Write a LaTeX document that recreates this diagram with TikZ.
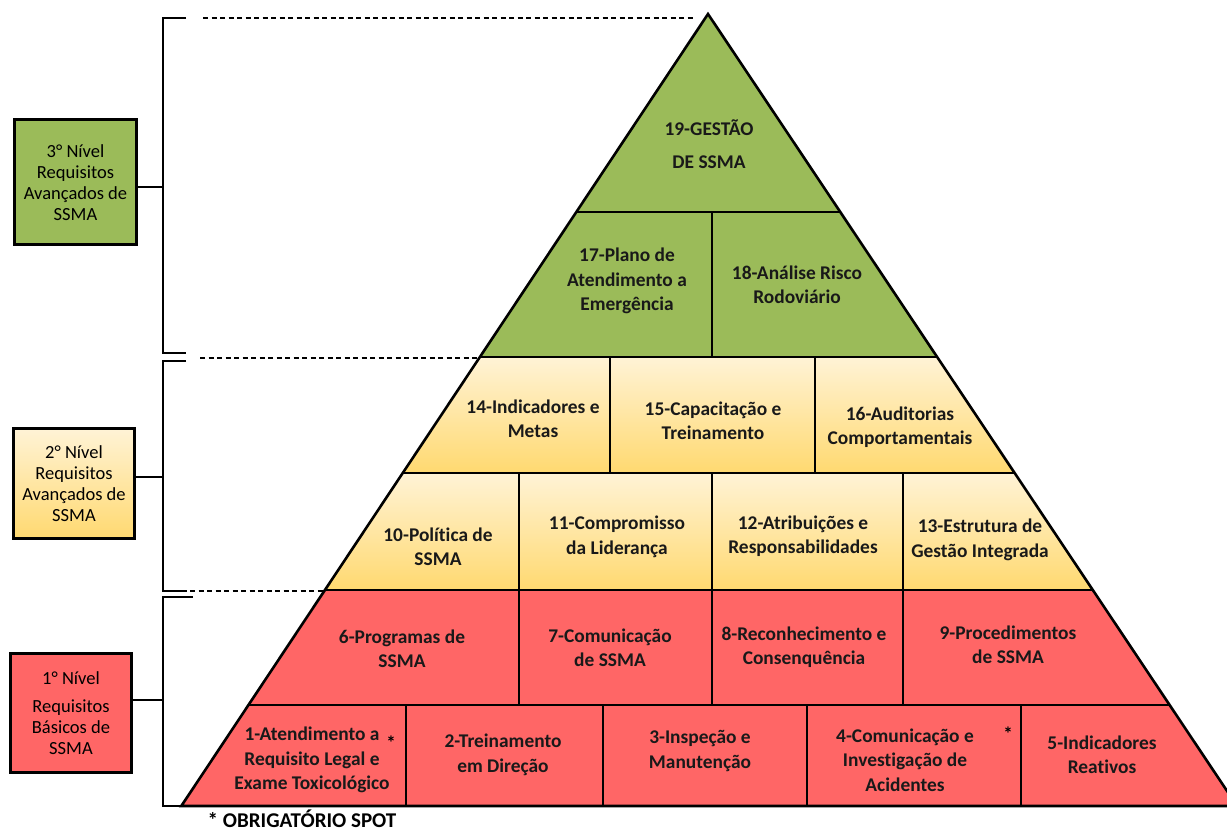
\documentclass[tikz,border=0pt]{standalone}
\usepackage{fontspec}
\setmainfont{Carlito}[Ligatures=NoCommon]
\definecolor{grn}{HTML}{9BBB59}
\definecolor{rd}{HTML}{FF6666}
\definecolor{ylt}{HTML}{FFF3D6}
\definecolor{ylb}{HTML}{FFD970}
\begin{document}
\begin{tikzpicture}[x=1pt,y=-1pt,
  pl/.style={line width=2.6pt,line join=miter},
  brk/.style={line width=2.8pt},
  dsh/.style={line width=1.1pt,dash pattern=on 5pt off 3.5pt},
  cell/.style={font=\fontsize{19.4}{24.5}\selectfont\bfseries,align=center,inner sep=0pt,text=black!90},
  star/.style={font=\fontsize{19}{22}\selectfont\bfseries,inner sep=0pt},
  lvl/.style={draw,line width=3pt,align=center,inner sep=0pt,font=\fontsize{18.5}{21}\selectfont}]
\useasboundingbox (0,0) rectangle (1227,834);
\begin{scope}
\clip (0,0) rectangle (1227,834);
% fills
\fill[grn] (708,14) -- (479.9,357) -- (937.1,357) -- cycle;
\shade[top color=ylt,bottom color=ylb] (479.9,357) -- (937.1,357) -- (1014.6,473) -- (402.8,473) -- cycle;
\shade[top color=ylt,bottom color=ylb] (402.8,473) -- (1014.6,473) -- (1092.8,590) -- (325,590) -- cycle;
\fill[rd] (325,590) -- (1092.8,590) -- (1237.1,806) -- (181.3,806) -- cycle;
% outline and rows
\draw[pl] (708,14) -- (181.3,806) -- (1237.1,806) -- cycle;
\draw[pl] (576.3,212) -- (840.3,212);
\draw[pl] (479.9,357) -- (937.1,357);
\draw[pl] (402.8,473) -- (1014.6,473);
\draw[pl] (325,590) -- (1092.8,590);
\draw[pl] (248.5,705) -- (1169.6,705);
% dividers
\draw[pl] (712,212) -- (712,357);
\draw[pl] (610,357) -- (610,473);
\draw[pl] (815,357) -- (815,473);
\draw[pl] (519,473) -- (519,590);
\draw[pl] (712,473) -- (712,590);
\draw[pl] (903,473) -- (903,590);
\draw[pl] (519,590) -- (519,705);
\draw[pl] (712,590) -- (712,705);
\draw[pl] (903,590) -- (903,705);
\draw[pl] (406,705) -- (406,806);
\draw[pl] (603,705) -- (603,806);
\draw[pl] (807,705) -- (807,806);
\draw[pl] (1021,705) -- (1021,806);
\end{scope}
% cell texts
\node[cell] (t19) at (709,144) {19-GESTÃO\\[8pt]DE SSMA};
\node[cell] (t17) at (627,281) {17-Plano de\\Atendimento a\\Emergência};
\node[cell] (t18) at (797,285) {18-Análise Risco\\Rodoviário};
\node[cell] (t14) at (533,419) {14-Indicadores e\\Metas};
\node[cell] (t15) at (713,421) {15-Capacitação e\\Treinamento};
\node[cell] (t16) at (900,427) {16-Auditorias\\Comportamentais};
\node[cell] (t10) at (438,547) {10-Política de\\SSMA};
\node[cell] (t11) at (617,537) {11-Compromisso\\da Liderança};
\node[cell] (t12) at (803,536) {12-Atribuições e\\Responsabilidades};
\node[cell] (t13) at (980,540) {13-Estrutura de\\Gestão Integrada};
\node[cell] (t6) at (402,649) {6-Programas de\\SSMA};
\node[cell] (t7) at (610,648) {7-Comunicação\\de SSMA};
\node[cell] (t8) at (804,647) {8-Reconhecimento e\\Consenquência};
\node[cell] (t9) at (1008,645) {9-Procedimentos\\de SSMA};
\node[cell] (t1) at (312,760) {1-Atendimento a\\Requisito Legal e\\Exame Toxicológico};
\node[cell] (t2) at (503,755) {2-Treinamento\\em Direção};
\node[cell] (t3) at (700,751) {3-Inspeção e\\Manutenção};
\node[cell] (t4) at (905,760) {4-Comunicação e\\Investigação de\\Acidentes};
\node[cell] (t5) at (1102,755) {5-Indicadores\\Reativos};
\node[star] (s1) at (391,743) {*};
\node[star] (s4) at (1008,734) {*};
% level boxes
\node[lvl,fill=grn,minimum width=122pt,minimum height=125pt] (b3) at (75.5,182.5) {3° Nível\\Requisitos\\Avançados de\\SSMA};
\node[lvl,top color=ylt,bottom color=ylb,draw=black,minimum width=121pt,minimum height=110pt] (b2) at (74,483.5) {2° Nível\\Requisitos\\Avançados de\\SSMA};
\node[lvl,fill=rd,minimum width=121pt,minimum height=119pt] (b1) at (71,713) {1° Nível\\[7pt]Requisitos\\Básicos de\\SSMA};
% brackets
\coordinate (j3) at (163,187);
\coordinate (j2) at (163,477);
\coordinate (j1) at (163,700);
\coordinate (base) at (181.3,806);
\draw[brk] (186,18) -- (163,18) -- (163,353) -- (186,353);
\draw[brk] (186,361) -- (163,361) -- (163,591) -- (187,591);
\draw[brk] (193,597) -- (163,597) -- (163,806) -- (base);
\draw[brk] (j3 -| b3.east) -- (j3);
\draw[brk] (j2 -| b2.east) -- (j2);
\draw[brk] (j1 -| b1.east) -- (j1);
% dashed guides
\draw[dsh] (203,18) -- (695,18);
\draw[dsh] (200,358) -- (480,358);
\draw[dsh] (190,591) -- (325,591);
% footnote
\node[font=\fontsize{21}{24}\selectfont\bfseries,inner sep=0pt] (foot) at (302,819) {* OBRIGATÓRIO SPOT};
\end{tikzpicture}
\end{document}
